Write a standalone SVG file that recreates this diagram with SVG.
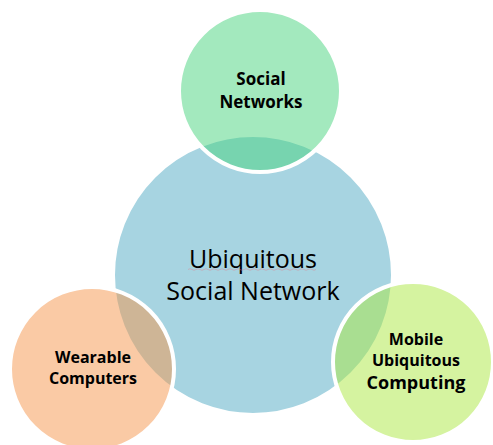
<svg xmlns="http://www.w3.org/2000/svg" width="493" height="445" viewBox="0 0 493 445">
<style>
.c{stroke:#fff;stroke-width:4}
.t{font-family:"Open Sans","Liberation Sans",sans-serif;font-weight:bold;fill:#000;text-anchor:middle}
.m{font-family:"Open Sans","Liberation Sans",sans-serif;fill:#000;text-anchor:middle;font-size:25px}
</style>
<rect width="493" height="445" fill="#fff"/>
<g id="center">
<circle class="c" cx="253" cy="275" r="140" fill="#a7d4e1"/>
<text class="m" x="253" y="268">Ubiquitous</text>
<text class="m" x="253" y="300">Social Network</text>
<path d="M188 269.5 Q190 268 192 269.5 T196 269.5 T200 269.5 T204 269.5 T208 269.5 T212 269.5 T216 269.5 T220 269.5 T224 269.5 T228 269.5 T232 269.5 T236 269.5 T240 269.5 T244 269.5 T248 269.5 T252 269.5 T256 269.5 T260 269.5 T264 269.5 T268 269.5 T272 269.5 T276 269.5 T280 269.5 T284 269.5 T288 269.5 T292 269.5 T296 269.5 T300 269.5 T304 269.5 T308 269.5 T312 269.5 T316 269.5" fill="none" stroke="#e07a8a" stroke-width="0.6" opacity="0.7"/>
</g>
<g id="social">
<circle class="c" cx="260" cy="91" r="81" fill="#47d37d" fill-opacity="0.5"/>
<text class="t" x="261" y="85" font-size="17">Social</text>
<text class="t" x="261" y="108" font-size="17">Networks</text>
</g>
<g id="wearable">
<circle class="c" cx="92" cy="369" r="82" fill="#f5954b" fill-opacity="0.5"/>
<text class="t" x="93" y="363" font-size="16">Wearable</text>
<text class="t" x="93" y="384" font-size="16">Computers</text>
</g>
<g id="mobile">
<circle class="c" cx="413" cy="362" r="80" fill="#abe741" fill-opacity="0.5"/>
<text class="t" x="416" y="345" font-size="16">Mobile</text>
<text class="t" x="416" y="366" font-size="16">Ubiquitous</text>
<text class="t" x="416" y="389" font-size="18">Computing</text>
</g>
<g id="connectors"></g>
</svg>
